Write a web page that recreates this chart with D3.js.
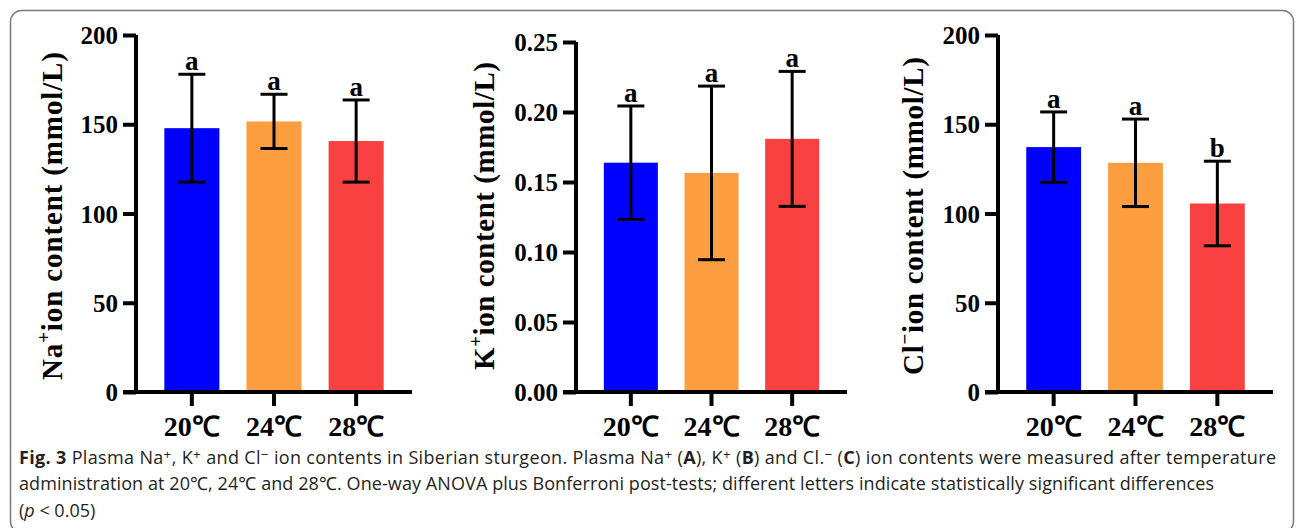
<!DOCTYPE html>
<html><head><meta charset="utf-8">
<script src="https://cdn.jsdelivr.net/npm/d3@7"></script>
<style>
html,body{margin:0;padding:0;background:#fff;}
svg{display:block;}
.tick text{font-family:"Liberation Serif","Times New Roman",serif;font-weight:bold;}
</style></head>
<body>
<svg id="chart" width="1296" height="528"></svg>
<script>
// ---------- data ----------
const categories = ["20℃", "24℃", "28℃"];
const barColors = ["#0000FE", "#FC9E3F", "#F94141"];

const naMean = [147.8, 151.6, 140.6];
const naSD = [30.2, 15.2, 23.0];
const naLetters = ["a", "a", "a"];
const naTicks = [0, 50, 100, 150, 200];

const kMean = [0.1638, 0.1565, 0.1808];
const kSD = [0.0405, 0.0620, 0.0482];
const kLetters = ["a", "a", "a"];
const kTicks = [0, 0.05, 0.10, 0.15, 0.20, 0.25];

const clMean = [137.2, 128.4, 105.6];
const clSD = [19.7, 24.5, 23.7];
const clLetters = ["a", "a", "b"];
const clTicks = [0, 50, 100, 150, 200];

// ---------- drawing ----------
const svg = d3.select("#chart");

// frame
svg.append("rect")
  .attr("x", 10.5).attr("y", 10.5).attr("width", 1283).attr("height", 522)
  .attr("rx", 11).attr("fill", "none").attr("stroke", "#7a7a7a").attr("stroke-width", 1.5);

const serif = '"Liberation Serif","Times New Roman",serif';

function panel(opts) {
  const {axisX, axisW, yTop, yBottom, yMax, ticks, fmt, mean, sd, letters, titleX, titleParts, titleLen} = opts;
  const g = svg.append("g");
  const x = d3.scaleBand().domain(categories)
    .range([axisX, axisX + axisW]).paddingInner(0.33).paddingOuter(0.345);
  const y = d3.scaleLinear().domain([0, yMax]).range([yBottom, yTop]);

  // bars
  g.selectAll("rect.bar").data(categories).join("rect")
    .attr("class", "bar")
    .attr("x", d => x(d)).attr("width", x.bandwidth())
    .attr("y", (d, i) => y(mean[i]))
    .attr("height", (d, i) => y(0) - y(mean[i]))
    .attr("fill", (d, i) => barColors[i]);

  // error bars
  const capW = 27;
  categories.forEach((c, i) => {
    const cx = x(c) + x.bandwidth() / 2;
    const hi = y(mean[i] + sd[i]), lo = y(mean[i] - sd[i]);
    g.append("line").attr("x1", cx).attr("x2", cx).attr("y1", hi).attr("y2", lo)
      .attr("stroke", "#000").attr("stroke-width", 3);
    [hi, lo].forEach(yy => g.append("line")
      .attr("x1", cx - capW / 2).attr("x2", cx + capW / 2).attr("y1", yy).attr("y2", yy)
      .attr("stroke", "#000").attr("stroke-width", 3));
    g.append("text").attr("x", cx).attr("y", hi - 4)
      .attr("text-anchor", "middle").attr("font-family", serif).attr("font-weight", "bold")
      .attr("font-size", 27).text(letters[i]);
  });

  // y axis
  const ya = g.append("g").attr("transform", `translate(${axisX},0)`)
    .call(d3.axisLeft(y).tickValues(ticks).tickFormat(fmt).tickSize(13).tickPadding(5));
  ya.select(".domain").attr("d", `M0,${yTop}V${yBottom}`).attr("stroke-width", 4).attr("stroke", "#000");
  ya.selectAll(".tick line").attr("stroke-width", 4).attr("stroke", "#000");
  ya.selectAll(".tick text").attr("font-size", 25).attr("fill", "#000").attr("dy", "0.34em");

  // x axis
  const xa = g.append("g").attr("transform", `translate(0,${yBottom})`)
    .call(d3.axisBottom(x).tickSize(14).tickPadding(10));
  xa.select(".domain").attr("d", `M${axisX - 13},0H${axisX + axisW}`).attr("stroke-width", 4).attr("stroke", "#000");
  xa.selectAll(".tick line").attr("stroke-width", 4).attr("stroke", "#000");
  xa.selectAll(".tick text").attr("font-size", 28).attr("fill", "#000").attr("dy", "0.71em");

  // y title
  const t = g.append("text")
    .attr("transform", `translate(${titleX},216) rotate(-90)`)
    .attr("text-anchor", "middle").attr("font-family", serif).attr("font-weight", "bold")
    .attr("font-size", 29).attr("textLength", titleLen).attr("lengthAdjust", "spacing");
  t.append("tspan").text(titleParts[0]);
  t.append("tspan").attr("dy", -12).attr("font-size", 19).text(titleParts[1]);
  t.append("tspan").attr("dy", 12).text(titleParts[2]);
}

panel({axisX: 136, axisW: 276, yTop: 35, yBottom: 392, yMax: 200, ticks: naTicks,
  fmt: d3.format("d"), mean: naMean, sd: naSD, letters: naLetters,
  titleX: 62, titleParts: ["Na", "+", "ion content (mmol/L)"], titleLen: 328});
panel({axisX: 576, axisW: 271, yTop: 42, yBottom: 392, yMax: 0.25, ticks: kTicks,
  fmt: d3.format(".2f"), mean: kMean, sd: kSD, letters: kLetters,
  titleX: 494, titleParts: ["K", "+", "ion content (mmol/L)"], titleLen: 308});
panel({axisX: 998, axisW: 275, yTop: 35, yBottom: 392, yMax: 200, ticks: clTicks,
  fmt: d3.format("d"), mean: clMean, sd: clSD, letters: clLetters,
  titleX: 923, titleParts: ["Cl", "\u2212", "ion content (mmol/L)"], titleLen: 318});

// ---------- caption ----------
const sans = '"Open Sans","Noto Sans",sans-serif';
const capFont = 18;
function captionLine(yy, parts, len) {
  const t = svg.append("text").attr("x", 19).attr("y", yy)
    .attr("font-family", sans).attr("font-size", capFont).attr("fill", "#231f20");
  if (len) t.attr("textLength", len).attr("lengthAdjust", "spacing");
  parts.forEach(p => {
    const s = t.append("tspan").text(p.t);
    if (p.b) s.attr("font-weight", "bold");
    if (p.i) s.attr("font-style", "italic");
    if (p.sup) s.attr("baseline-shift", "35%").attr("font-size", capFont * 0.75);
  });
}
captionLine(464, [
  {t: "Fig. 3", b: true}, {t: "  Plasma Na"}, {t: "+", sup: true}, {t: ", K"}, {t: "+", sup: true},
  {t: " and Cl"}, {t: "\u2212", sup: true}, {t: " ion contents in Siberian sturgeon. Plasma Na"},
  {t: "+", sup: true}, {t: " ("}, {t: "A", b: true}, {t: "), K"}, {t: "+", sup: true}, {t: " ("},
  {t: "B", b: true}, {t: ") and Cl."}, {t: "\u2212", sup: true}, {t: " ("}, {t: "C", b: true},
  {t: ") ion contents were measured after temperature"}
], 1257);
captionLine(490, [
  {t: "administration at 20℃, 24℃ and 28℃. One-way ANOVA plus Bonferroni post-tests; different letters indicate statistically significant differences"}
], 1195);
captionLine(517, [{t: "("}, {t: "p", i: true}, {t: " < 0.05)"}]);
</script>
</body></html>
